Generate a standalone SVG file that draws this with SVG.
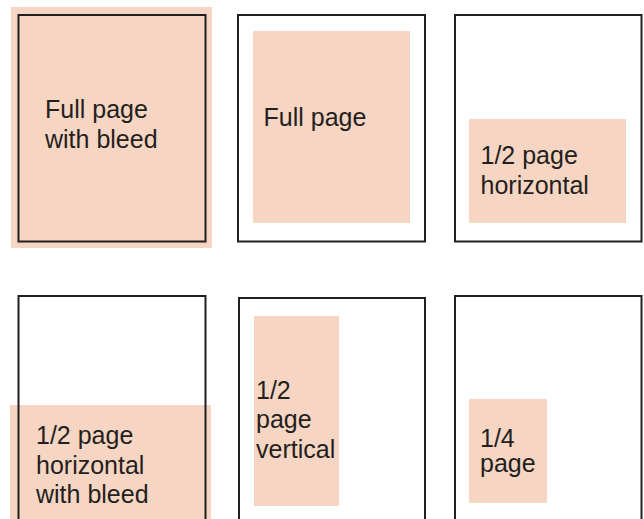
<svg xmlns="http://www.w3.org/2000/svg" width="644" height="519" viewBox="0 0 644 519">
<style>
.fill{fill:#F6D5C3;}
.page{fill:none;stroke:#231F20;stroke-width:2;}
.lbl{font-family:"Liberation Sans",Arial,sans-serif;font-size:25px;fill:#231F20;}
</style>
<rect width="644" height="519" fill="#FFFFFF"/>
<g id="full-page-bleed">
<rect class="fill" x="11" y="7" width="201" height="241"/>
<rect class="page" x="18.5" y="15" width="187" height="226.5"/>
<text class="lbl" x="45" y="118">Full page</text>
<text class="lbl" x="45" y="148">with bleed</text>
</g>
<g id="full-page">
<rect class="page" x="238" y="15" width="187" height="226.5"/>
<rect class="fill" x="253" y="31" width="157" height="192"/>
<text class="lbl" x="263.5" y="126">Full page</text>
</g>
<g id="half-horizontal">
<rect class="page" x="455" y="15" width="186.5" height="226.5"/>
<rect class="fill" x="469" y="119" width="157" height="104"/>
<text class="lbl" x="480.5" y="163.5">1/2 page</text>
<text class="lbl" x="480.5" y="193.5">horizontal</text>
</g>
<g id="half-horizontal-bleed">
<rect class="page" x="18.5" y="296" width="187" height="240"/>
<rect class="fill" x="10" y="405" width="201" height="120"/>
<line x1="18.5" y1="405" x2="18.5" y2="519" stroke="#231F20" stroke-width="2"/>
<line x1="205.5" y1="405" x2="205.5" y2="519" stroke="#231F20" stroke-width="2"/>
<text class="lbl" x="36" y="443.5">1/2 page</text>
<text class="lbl" x="36" y="473.5">horizontal</text>
<text class="lbl" x="36" y="503">with bleed</text>
</g>
<g id="half-vertical">
<rect class="page" x="239" y="298" width="186" height="240"/>
<rect class="fill" x="254" y="316" width="85" height="190"/>
<text class="lbl" x="256" y="398.5">1/2</text>
<text class="lbl" x="256" y="428">page</text>
<text class="lbl" x="256" y="458">vertical</text>
</g>
<g id="quarter-page">
<rect class="page" x="455" y="296" width="186.5" height="240"/>
<rect class="fill" x="469" y="399" width="78" height="104"/>
<text class="lbl" x="480" y="447">1/4</text>
<text class="lbl" x="480" y="472">page</text>
</g>
<g id="connectors"></g>
</svg>
